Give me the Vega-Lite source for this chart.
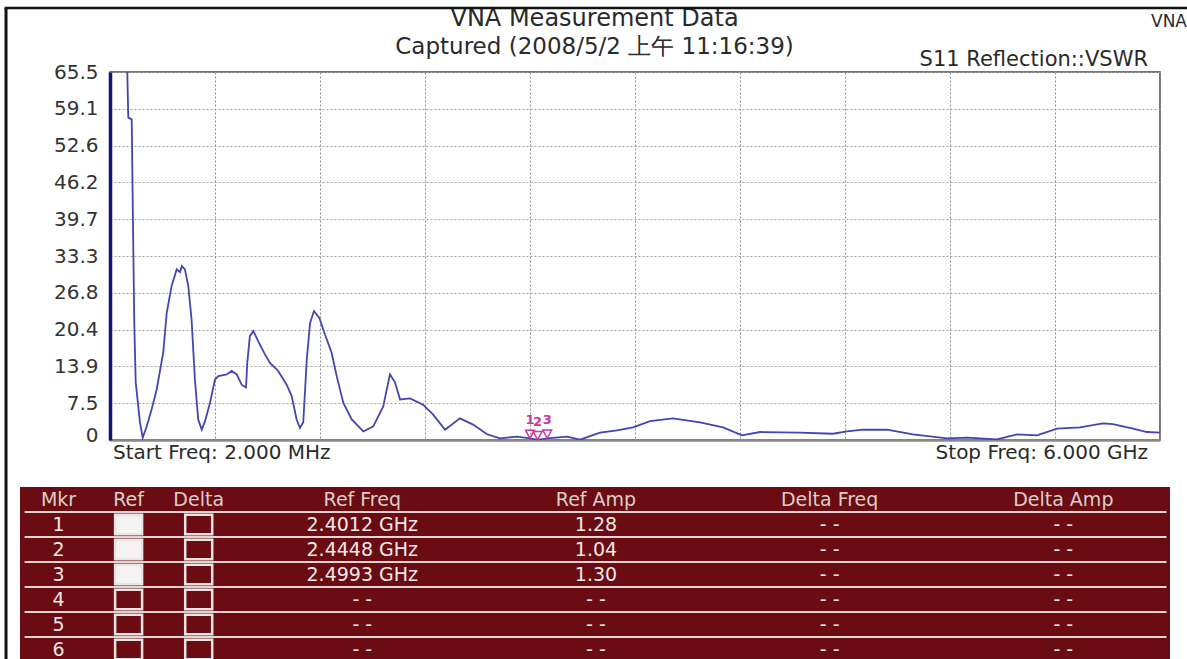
{
  "$schema": "https://vega.github.io/schema/vega-lite/v6.json",
  "width": 1050,
  "height": 368,
  "autosize": {"type": "none"},
  "padding": {"left": 110, "top": 72, "right": 27, "bottom": 219},
  "background": "white",
  "config": {
    "view": {"stroke": "#4a4a4a", "strokeWidth": 1.5},
    "text": {"font": "DejaVu Sans"}
  },
  "datasets": {
    "curve": [
      {"f": 0.094, "vswr": 75}, {"f": 0.1065, "vswr": 57.5}, {"f": 0.126, "vswr": 57.2}, {"f": 0.135, "vswr": 34.7},
      {"f": 0.141, "vswr": 21.0}, {"f": 0.149, "vswr": 11.1}, {"f": 0.173, "vswr": 4.1}, {"f": 0.189, "vswr": 1.4},
      {"f": 0.212, "vswr": 3.4}, {"f": 0.240, "vswr": 6.4}, {"f": 0.269, "vswr": 9.9}, {"f": 0.306, "vswr": 16.3},
      {"f": 0.326, "vswr": 23.3}, {"f": 0.354, "vswr": 28.0}, {"f": 0.383, "vswr": 30.9}, {"f": 0.402, "vswr": 30.4},
      {"f": 0.412, "vswr": 31.5}, {"f": 0.430, "vswr": 30.9}, {"f": 0.449, "vswr": 28.0}, {"f": 0.468, "vswr": 22.1},
      {"f": 0.487, "vswr": 11.6}, {"f": 0.506, "vswr": 4.6}, {"f": 0.526, "vswr": 2.8}, {"f": 0.545, "vswr": 4.3},
      {"f": 0.573, "vswr": 7.5}, {"f": 0.602, "vswr": 11.6}, {"f": 0.621, "vswr": 12.2}, {"f": 0.669, "vswr": 12.5},
      {"f": 0.697, "vswr": 13.1}, {"f": 0.726, "vswr": 12.5}, {"f": 0.754, "vswr": 10.7}, {"f": 0.779, "vswr": 10.2},
      {"f": 0.786, "vswr": 14.5}, {"f": 0.801, "vswr": 19.2}, {"f": 0.821, "vswr": 20.1}, {"f": 0.849, "vswr": 18.3},
      {"f": 0.887, "vswr": 16.0}, {"f": 0.916, "vswr": 14.5}, {"f": 0.963, "vswr": 13.1}, {"f": 1.011, "vswr": 10.7},
      {"f": 1.040, "vswr": 8.7}, {"f": 1.068, "vswr": 4.6}, {"f": 1.087, "vswr": 3.1}, {"f": 1.106, "vswr": 4.1},
      {"f": 1.126, "vswr": 15.1}, {"f": 1.145, "vswr": 21.5}, {"f": 1.167, "vswr": 23.6}, {"f": 1.198, "vswr": 22.4},
      {"f": 1.230, "vswr": 19.5}, {"f": 1.268, "vswr": 16.3}, {"f": 1.297, "vswr": 12.2}, {"f": 1.335, "vswr": 7.5},
      {"f": 1.383, "vswr": 4.6}, {"f": 1.449, "vswr": 2.5}, {"f": 1.506, "vswr": 3.4}, {"f": 1.563, "vswr": 6.9},
      {"f": 1.601, "vswr": 12.5}, {"f": 1.630, "vswr": 11.1}, {"f": 1.659, "vswr": 8.1}, {"f": 1.716, "vswr": 8.3},
      {"f": 1.790, "vswr": 7.2}, {"f": 1.847, "vswr": 5.5}, {"f": 1.916, "vswr": 2.8}, {"f": 2.001, "vswr": 4.8},
      {"f": 2.076, "vswr": 3.7}, {"f": 2.156, "vswr": 2.0}, {"f": 2.230, "vswr": 1.3}, {"f": 2.327, "vswr": 1.6},
      {"f": 2.4012, "vswr": 1.28}, {"f": 2.4448, "vswr": 1.04}, {"f": 2.4993, "vswr": 1.30}, {"f": 2.613, "vswr": 1.6},
      {"f": 2.687, "vswr": 1.05}, {"f": 2.801, "vswr": 2.3}, {"f": 2.898, "vswr": 2.7}, {"f": 2.990, "vswr": 3.2},
      {"f": 3.087, "vswr": 4.3}, {"f": 3.218, "vswr": 4.8}, {"f": 3.372, "vswr": 4.1}, {"f": 3.504, "vswr": 3.2},
      {"f": 3.612, "vswr": 1.8}, {"f": 3.715, "vswr": 2.4}, {"f": 3.943, "vswr": 2.3}, {"f": 4.132, "vswr": 2.1},
      {"f": 4.212, "vswr": 2.5}, {"f": 4.303, "vswr": 2.8}, {"f": 4.440, "vswr": 2.8}, {"f": 4.589, "vswr": 2.0},
      {"f": 4.783, "vswr": 1.3}, {"f": 4.898, "vswr": 1.4}, {"f": 5.069, "vswr": 1.1}, {"f": 5.183, "vswr": 2.0},
      {"f": 5.297, "vswr": 1.8}, {"f": 5.412, "vswr": 3.0}, {"f": 5.543, "vswr": 3.2}, {"f": 5.674, "vswr": 3.9},
      {"f": 5.731, "vswr": 3.8}, {"f": 5.846, "vswr": 3.0}, {"f": 5.926, "vswr": 2.4}, {"f": 6.000, "vswr": 2.3}
    ],
    "markers": [
      {"mkr": "1", "f": 2.4012, "vswr": 1.28},
      {"mkr": "2", "f": 2.4448, "vswr": 1.04},
      {"mkr": "3", "f": 2.4993, "vswr": 1.30}
    ],
    "table": [
      {"row": "hdr", "col": "Mkr", "text": "Mkr"},
      {"row": "hdr", "col": "Ref", "text": "Ref"},
      {"row": "hdr", "col": "Delta", "text": "Delta"},
      {"row": "hdr", "col": "Ref Freq", "text": "Ref Freq"},
      {"row": "hdr", "col": "Ref Amp", "text": "Ref Amp"},
      {"row": "hdr", "col": "Delta Freq", "text": "Delta Freq"},
      {"row": "hdr", "col": "Delta Amp", "text": "Delta Amp"},
      {"row": "1", "col": "Mkr", "text": "1"},
      {"row": "1", "col": "Ref Freq", "text": "2.4012 GHz"},
      {"row": "1", "col": "Ref Amp", "text": "1.28"},
      {"row": "1", "col": "Delta Freq", "text": "- -"},
      {"row": "1", "col": "Delta Amp", "text": "- -"},
      {"row": "2", "col": "Mkr", "text": "2"},
      {"row": "2", "col": "Ref Freq", "text": "2.4448 GHz"},
      {"row": "2", "col": "Ref Amp", "text": "1.04"},
      {"row": "2", "col": "Delta Freq", "text": "- -"},
      {"row": "2", "col": "Delta Amp", "text": "- -"},
      {"row": "3", "col": "Mkr", "text": "3"},
      {"row": "3", "col": "Ref Freq", "text": "2.4993 GHz"},
      {"row": "3", "col": "Ref Amp", "text": "1.30"},
      {"row": "3", "col": "Delta Freq", "text": "- -"},
      {"row": "3", "col": "Delta Amp", "text": "- -"},
      {"row": "4", "col": "Mkr", "text": "4"},
      {"row": "4", "col": "Ref Freq", "text": "- -"},
      {"row": "4", "col": "Ref Amp", "text": "- -"},
      {"row": "4", "col": "Delta Freq", "text": "- -"},
      {"row": "4", "col": "Delta Amp", "text": "- -"},
      {"row": "5", "col": "Mkr", "text": "5"},
      {"row": "5", "col": "Ref Freq", "text": "- -"},
      {"row": "5", "col": "Ref Amp", "text": "- -"},
      {"row": "5", "col": "Delta Freq", "text": "- -"},
      {"row": "5", "col": "Delta Amp", "text": "- -"},
      {"row": "6", "col": "Mkr", "text": "6"},
      {"row": "6", "col": "Ref Freq", "text": "- -"},
      {"row": "6", "col": "Ref Amp", "text": "- -"},
      {"row": "6", "col": "Delta Freq", "text": "- -"},
      {"row": "6", "col": "Delta Amp", "text": "- -"}
    ],
    "checks": [
      {"row": "1", "col": "Ref", "on": true}, {"row": "1", "col": "Delta", "on": false},
      {"row": "2", "col": "Ref", "on": true}, {"row": "2", "col": "Delta", "on": false},
      {"row": "3", "col": "Ref", "on": true}, {"row": "3", "col": "Delta", "on": false},
      {"row": "4", "col": "Ref", "on": false}, {"row": "4", "col": "Delta", "on": false},
      {"row": "5", "col": "Ref", "on": false}, {"row": "5", "col": "Delta", "on": false},
      {"row": "6", "col": "Ref", "on": false}, {"row": "6", "col": "Delta", "on": false}
    ]
  },
  "layer": [
    {
      "layer": [
        {
          "data": {"name": "curve"},
          "mark": {"type": "line", "clip": true, "color": "#4444b2", "strokeWidth": 1.8},
          "encoding": {
            "x": {
              "field": "f", "type": "quantitative",
              "scale": {"domain": [0.002, 6.0], "nice": false, "zero": false},
              "axis": {
                "title": null, "labels": false, "ticks": false, "tickCount": 20,
                "values": [0.002, 0.6018, 1.2016, 1.8014, 2.4012, 3.001, 3.6008, 4.2006, 4.8004, 5.4002, 6.0],
                "grid": true, "gridColor": "#8c8c8c", "gridDash": [2, 2], "gridWidth": 1,
                "domainColor": "#8a8a8a", "domainWidth": 2.5
              }
            },
            "y": {
              "field": "vswr", "type": "quantitative",
              "scale": {"domain": [1, 65.5], "nice": false, "zero": false},
              "axis": {
                "title": null, "ticks": false, "tickCount": 20,
                "values": [1, 7.45, 13.9, 20.35, 26.8, 33.25, 39.7, 46.16, 52.6, 59.06, 65.5],
                "labelExpr": "datum.value < 2 ? '0' : format(datum.value, '.1f')",
                "labelOverlap": false,
                "labelFont": "DejaVu Sans", "labelFontSize": 20, "labelColor": "#333333",
                "labelPadding": 12,
                "labelOffset": {"condition": {"test": "datum.value < 2", "value": -5}, "value": 0},
                "grid": true, "gridColor": "#a0a0a0", "gridDash": [2, 2], "gridWidth": 1,
                "domainColor": "#14147a", "domainWidth": 3.5
              }
            }
          }
        },
        {
          "data": {"name": "markers"},
          "mark": {"type": "point", "shape": "M -0.7 -1.3 L 0.7 -1.3 L 0 0 Z", "size": 160, "filled": false, "stroke": "#c8359c", "strokeWidth": 1.5, "opacity": 1},
          "encoding": {
            "x": {"field": "f", "type": "quantitative"},
            "y": {"field": "vswr", "type": "quantitative"}
          }
        },
        {
          "data": {"name": "markers"},
          "mark": {"type": "text", "color": "#c8359c", "fontSize": 13, "fontWeight": "bold", "dy": -18, "baseline": "middle"},
          "encoding": {
            "x": {"field": "f", "type": "quantitative"},
            "y": {"field": "vswr", "type": "quantitative"},
            "text": {"field": "mkr"}
          }
        },
        {
          "data": {"values": [{}]},
          "mark": {"type": "text", "text": "VNA Measurement Data", "fontSize": 24, "color": "#2a2a2a", "align": "center", "baseline": "middle", "dy": -53},
          "encoding": {
            "x": {"datum": 2.77, "type": "quantitative"},
            "y": {"datum": 65.5, "type": "quantitative"}
          }
        },
        {
          "data": {"values": [{}]},
          "mark": {"type": "text", "text": "Captured  (2008/5/2 上午 11:16:39)", "fontSize": 23, "color": "#2a2a2a", "align": "center", "baseline": "middle", "dy": -25},
          "encoding": {
            "x": {"datum": 2.77, "type": "quantitative"},
            "y": {"datum": 65.5, "type": "quantitative"}
          }
        },
        {
          "data": {"values": [{}]},
          "mark": {"type": "text", "text": "VNA", "fontSize": 17, "color": "#2a2a2a", "align": "right", "baseline": "middle", "dx": 27, "dy": -50},
          "encoding": {
            "x": {"datum": 6.0, "type": "quantitative"},
            "y": {"datum": 65.5, "type": "quantitative"}
          }
        },
        {
          "data": {"values": [{}]},
          "mark": {"type": "text", "text": "S11 Reflection::VSWR", "fontSize": 21, "color": "#2a2a2a", "align": "right", "baseline": "bottom", "dx": -12, "dy": -2},
          "encoding": {
            "x": {"datum": 6.0, "type": "quantitative"},
            "y": {"datum": 65.5, "type": "quantitative"}
          }
        },
        {
          "data": {"values": [{}]},
          "mark": {"type": "text", "text": "Start Freq: 2.000 MHz", "fontSize": 20, "color": "#2a2a2a", "align": "left", "baseline": "middle", "dx": 3, "dy": 13},
          "encoding": {
            "x": {"datum": 0.002, "type": "quantitative"},
            "y": {"datum": 1, "type": "quantitative"}
          }
        },
        {
          "data": {"values": [{}]},
          "mark": {"type": "text", "text": "Stop Freq: 6.000 GHz", "fontSize": 20, "color": "#2a2a2a", "align": "right", "baseline": "middle", "dx": -12, "dy": 13},
          "encoding": {
            "x": {"datum": 6.0, "type": "quantitative"},
            "y": {"datum": 1, "type": "quantitative"}
          }
        },
        {
          "data": {"values": [{}]},
          "mark": {"type": "rule", "color": "#111111", "strokeWidth": 2.5},
          "encoding": {
            "x": {"datum": -0.6, "type": "quantitative", "scale": {"domain": [0.002, 6.0], "nice": false, "zero": false}},
            "x2": {"datum": 6.25},
            "y": {"datum": 76.72, "type": "quantitative", "scale": {"domain": [1, 65.5], "nice": false, "zero": false}}
          }
        },
        {
          "data": {"values": [{}]},
          "mark": {"type": "rule", "color": "#111111", "strokeWidth": 3},
          "encoding": {
            "x": {"datum": -0.592, "type": "quantitative", "scale": {"domain": [0.002, 6.0], "nice": false, "zero": false}},
            "y": {"datum": 76.72, "type": "quantitative", "scale": {"domain": [1, 65.5], "nice": false, "zero": false}},
            "y2": {"datum": -38}
          }
        }
      ]
    },
    {
      "layer": [
        {
          "layer": [
            {
              "data": {"name": "table"},
              "transform": [{"filter": "datum.col == 'Mkr'"}],
              "mark": {"type": "rect", "color": "#6a0c12"},
              "encoding": {
                "x": {"datum": 0, "type": "quantitative", "scale": {"domain": [0, 1], "range": [-90, 1060], "nice": false, "zero": false}, "axis": null},
                "x2": {"datum": 1},
                "y": {"field": "row", "type": "nominal", "scale": {"type": "band", "domain": ["hdr", "1", "2", "3", "4", "5", "6"], "range": [415, 590], "paddingInner": 0, "paddingOuter": 0}, "axis": null}
              }
            },
            {
              "data": {"name": "table"},
              "transform": [{"filter": "datum.col == 'Mkr' && datum.row != '6'"}],
              "mark": {"type": "rule", "color": "#e2d4d4", "strokeWidth": 2},
              "encoding": {
                "x": {"datum": 0.004, "type": "quantitative"},
                "x2": {"datum": 0.997},
                "y": {"field": "row", "type": "nominal", "bandPosition": 1, "axis": null}
              }
            }
          ]
        },
        {
          "layer": [
            {
              "data": {"name": "table"},
              "mark": {"type": "text", "fontSize": 19, "baseline": "middle", "align": "center"},
              "encoding": {
                "x": {
                  "field": "col", "type": "nominal", "axis": null,
                  "scale": {
                    "type": "point", "padding": 0, "range": [-51.5, 953.3],
                    "domain": ["Mkr", "~1", "~2", "Ref", "~4", "~5", "Delta", "~7", "~8", "~9", "~10", "~11", "~12", "Ref Freq", "~14", "~15", "~16", "~17", "~18", "~19", "~20", "~21", "~22", "Ref Amp", "~24", "~25", "~26", "~27", "~28", "~29", "~30", "~31", "~32", "Delta Freq", "~34", "~35", "~36", "~37", "~38", "~39", "~40", "~41", "~42", "Delta Amp"]
                  }
                },
                "y": {"field": "row", "type": "nominal", "axis": null},
                "text": {"field": "text"},
                "color": {"condition": {"test": "datum.row == 'hdr'", "value": "#dccdcd"}, "value": "#f0e8e8"}
              }
            },
            {
              "data": {"name": "checks"},
              "mark": {"type": "point", "shape": "M -1.4 -1 L 1.4 -1 L 1.4 1 L -1.4 1 Z", "size": 372, "filled": true, "stroke": "#ece4e4", "strokeWidth": 2.5, "opacity": 1},
              "encoding": {
                "x": {"field": "col", "type": "nominal", "axis": null},
                "y": {"field": "row", "type": "nominal", "axis": null},
                "fill": {"condition": {"test": "datum.on", "value": "#f4f2f2"}, "value": "transparent"}
              }
            }
          ]
        }
      ],
      "resolve": {"scale": {"x": "independent"}}
    }
  ],
  "resolve": {"scale": {"x": "independent", "y": "independent"}}
}
